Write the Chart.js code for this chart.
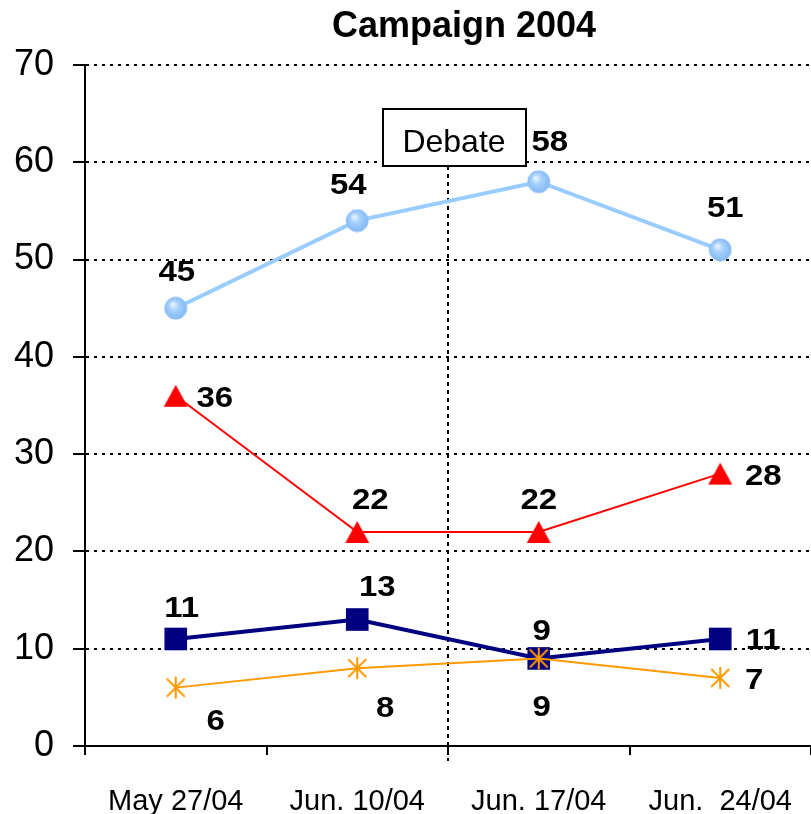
<!DOCTYPE html>
<html><head><meta charset="utf-8">
<script src="https://cdn.jsdelivr.net/npm/chart.js@4/dist/chart.umd.min.js"></script>
<style>html,body{margin:0;padding:0;background:#fff}#wrap{width:811px;height:814px}</style>
</head><body><div id="wrap"><canvas id="c" width="811" height="814"></canvas></div>
<script>
// ---- data ----
const categories = ['May 27/04', 'Jun. 10/04', 'Jun. 17/04', 'Jun.  24/04'];
const seriesBlue = [45, 54, 58, 51];
const seriesRed = [36, 22, 22, 28];
const seriesNavy = [11, 13, 9, 11];
const seriesOrange = [6, 8, 9, 7];
const yTickValues = [0, 10, 20, 30, 40, 50, 60, 70];
const titleText = 'Campaign 2004';
const eventLabel = 'Debate';
const eventAfterIndex = 1; // event lies between category 1 and 2

// ---- styles ----
const FONT = '"Liberation Sans", Arial, sans-serif';
const labelOffsets = {
  blue:   [[1, -38], [-9, -38], [11, -42], [5, -44]],
  red:    [[39, 0], [13, -34], [0, -34], [43, 0]],
  navy:   [[6, -33], [20, -35], [3, -29], [43, -1]],
  orange: [[40, 31], [28, 38], [3, 47], [34, 0]]
};

function makeCanvas(w, h, fn) {
  const c = document.createElement('canvas'); c.width = w; c.height = h;
  fn(c.getContext('2d')); return c;
}
const ballImg = makeCanvas(24, 24, ctx => {
  const g = ctx.createRadialGradient(9, 8, 1, 12, 12, 12);
  g.addColorStop(0, '#e6f2ff'); g.addColorStop(0.35, '#a8d2ff'); g.addColorStop(1, '#7fb6f2');
  ctx.fillStyle = g; ctx.beginPath(); ctx.arc(12, 12, 11, 0, Math.PI * 2); ctx.fill();
  ctx.strokeStyle = '#8fc0f5'; ctx.lineWidth = 1; ctx.stroke();
});
const triImg = makeCanvas(26, 24, ctx => {
  ctx.fillStyle = '#FF0000'; ctx.beginPath();
  ctx.moveTo(13, 1); ctx.lineTo(25, 23); ctx.lineTo(1, 23); ctx.closePath(); ctx.fill();
});
const starImg = makeCanvas(24, 24, ctx => {
  ctx.strokeStyle = '#FF9900'; ctx.lineWidth = 2; ctx.beginPath();
  ctx.moveTo(12, 1); ctx.lineTo(12, 23);
  ctx.moveTo(3, 3); ctx.lineTo(21, 21);
  ctx.moveTo(21, 3); ctx.lineTo(3, 21);
  ctx.stroke();
});

const overlay = {
  id: 'overlay',
  beforeDatasetsDraw(chart) {
    const {ctx, scales: {x}} = chart;
    const ex = (x.getPixelForValue(eventAfterIndex) + x.getPixelForValue(eventAfterIndex + 1)) / 2;
    const top = chart.chartArea.top;
    ctx.save();
    ctx.strokeStyle = '#000'; ctx.lineWidth = 2; ctx.setLineDash([4, 4]);
    ctx.beginPath(); ctx.moveTo(ex, top + 101); ctx.lineTo(ex, chart.chartArea.bottom + 15); ctx.stroke();
    ctx.restore();
  },
  afterDraw(chart) {
    const {ctx, scales: {x}} = chart;
    const ex = (x.getPixelForValue(eventAfterIndex) + x.getPixelForValue(eventAfterIndex + 1)) / 2;
    const top = chart.chartArea.top;
    ctx.save();
    ctx.fillStyle = '#fff'; ctx.strokeStyle = '#000'; ctx.lineWidth = 2;
    ctx.fillRect(ex - 65, top + 44, 143, 57);
    ctx.strokeRect(ex - 65, top + 44, 143, 57);
    ctx.fillStyle = '#000'; ctx.font = '32px ' + FONT; ctx.textAlign = 'center'; ctx.textBaseline = 'alphabetic';
    ctx.fillText(eventLabel, ex + 6, top + 87);
    ctx.font = 'bold 36px ' + FONT;
    ctx.fillText(titleText, (chart.chartArea.left + chart.chartArea.right) / 2 + 16, 37);
    ctx.font = 'bold 30px ' + FONT;
    const sx = 1.1;
    chart.data.datasets.forEach((ds, di) => {
      const meta = chart.getDatasetMeta(di);
      const offs = labelOffsets[ds.key];
      meta.data.forEach((pt, i) => {
        const [dx, dy] = offs[i];
        ctx.save();
        ctx.translate(pt.x + dx, pt.y + dy + 11);
        ctx.scale(sx, 1);
        ctx.fillText(String(ds.data[i]), 0, 0);
        ctx.restore();
      });
    });
    ctx.restore();
  }
};

new Chart(document.getElementById('c'), {
  type: 'line',
  data: {
    labels: categories,
    datasets: [
      { key: 'orange', data: seriesOrange, order: 0, borderColor: '#FF9900', borderWidth: 2,
        pointStyle: starImg, pointRadius: 10 },
      { key: 'navy', data: seriesNavy, order: 1, borderColor: '#000080', borderWidth: 4,
        pointStyle: 'rect', pointRadius: 16, pointBackgroundColor: '#000080', pointBorderColor: '#000080', pointBorderWidth: 0 },
      { key: 'red', data: seriesRed, order: 2, borderColor: '#FF0000', borderWidth: 2,
        pointStyle: triImg, pointRadius: 12 },
      { key: 'blue', data: seriesBlue, order: 3, borderColor: '#99CCFF', borderWidth: 4,
        pointStyle: ballImg, pointRadius: 12 }
    ]
  },
  options: {
    responsive: false, animation: false, devicePixelRatio: 1,
    layout: { autoPadding: false, padding: { top: 65, left: 0, right: 0, bottom: 0 } },
    plugins: { legend: { display: false }, title: { display: false }, tooltip: { enabled: false } },
    scales: {
      x: {
        type: 'category', offset: true,
        grid: { display: true, offset: true, drawOnChartArea: false, drawTicks: true, tickLength: 9,
                color: '#000', lineWidth: 2 },
        border: { display: true, color: '#000', width: 2 },
        ticks: { color: '#000', font: { family: FONT, size: 29 }, padding: 30, maxRotation: 0, autoSkip: false },
        afterFit(s) { s.height = 68; s.paddingRight = 0; s.paddingLeft = 0; }
      },
      y: {
        min: 0, max: 70,
        afterBuildTicks(s) { s.ticks = yTickValues.map(v => ({ value: v })); },
        grid: { color: '#000', lineWidth: 2, tickLength: 12, tickColor: '#000', tickWidth: 2 },
        border: { display: true, color: '#000', width: 2, dash: [3, 5] },
        ticks: { color: '#000', font: { family: FONT, size: 36 }, padding: 19 },
        afterFit(s) { s.width = 85; s.paddingTop = 0; s.paddingBottom = 0; }
      }
    }
  },
  plugins: [overlay]
});
</script>
</body></html>
